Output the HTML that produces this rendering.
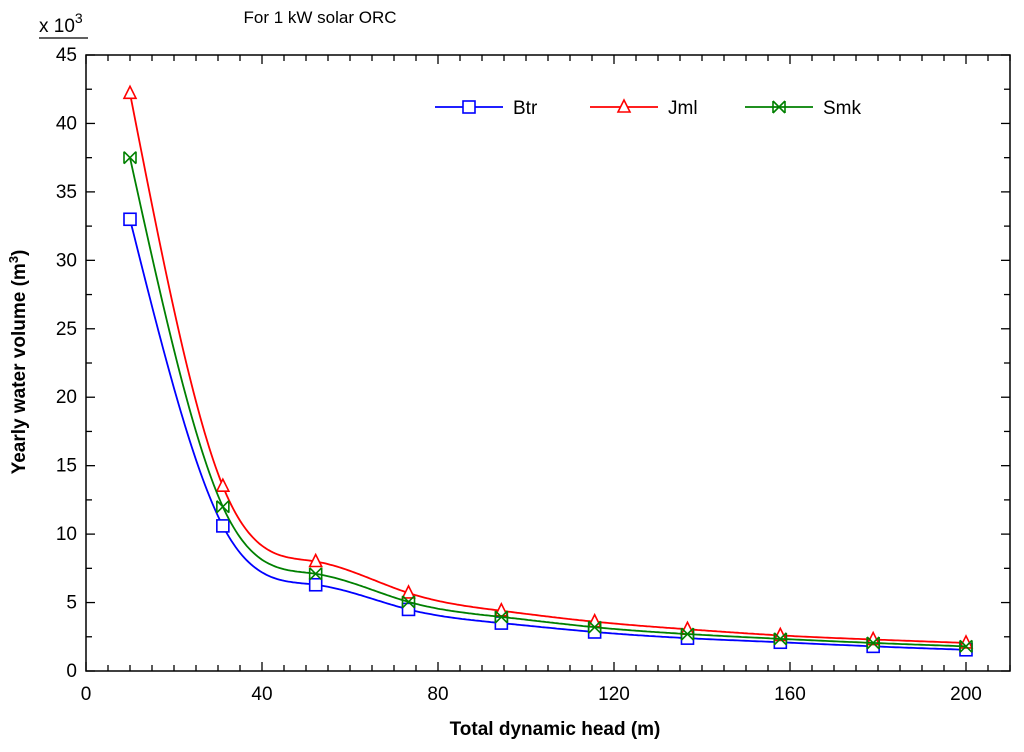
<!DOCTYPE html>
<html><head><meta charset="utf-8"><style>
body{margin:0;background:#fff}
svg text{font-family:"Liberation Sans",sans-serif}
</style></head><body>
<svg id="c" width="1024" height="747" xmlns="http://www.w3.org/2000/svg">
<text x="320" y="23" font-size="17" text-anchor="middle">For 1 kW solar ORC</text>
<text x="39" y="32" font-size="19">x 10<tspan dy="-9" font-size="14">3</tspan></text>
<line x1="39" y1="38" x2="88" y2="38" stroke="#000" stroke-width="1.3"/>
<text x="555" y="735" font-size="19" font-weight="bold" text-anchor="middle">Total dynamic head (m)</text>
<text transform="translate(25,362) rotate(-90)" font-size="19" font-weight="bold" text-anchor="middle">Yearly water volume (m<tspan dy="-7" font-size="13">3</tspan><tspan dy="7">)</tspan></text>
<g id="axes"></g><g id="series"></g><g id="legend"></g>
</svg>
<script>
const xValues=[10,31.1,52.2,73.3,94.4,115.6,136.7,157.8,178.9,200];
const btr=[33.0,10.6,6.3,4.5,3.5,2.85,2.4,2.1,1.8,1.55];
const jml=[42.2,13.5,8.0,5.7,4.4,3.6,3.05,2.6,2.3,2.05];
const smk=[37.5,12.0,7.1,5.05,3.95,3.2,2.7,2.35,2.05,1.8];
const xTicks=[0,40,80,120,160,200];
const yTicks=[0,5,10,15,20,25,30,35,40,45];
const L=86,R=1010,T=55,B=671,XMAX=210,YMAX=45;
const sx=v=>L+v/XMAX*(R-L), sy=v=>B-v/YMAX*(B-T);
const NS="http://www.w3.org/2000/svg";
function mk(t,a,p){const e=document.createElementNS(NS,t);for(const k in a)e.setAttribute(k,a[k]);p.appendChild(e);return e;}
const ax=document.getElementById('axes');
const frame=mk('rect',{x:L,y:T,width:R-L,height:B-T,fill:'none',stroke:'#000','stroke-width':1.5},ax);


for(let v=0;v<=XMAX;v+=5){const x=sx(v),len=v%40===0?9:6;
mk('line',{x1:x,y1:B,x2:x,y2:B-len,stroke:'#000','stroke-width':1.3},ax);
mk('line',{x1:x,y1:T,x2:x,y2:T+len,stroke:'#000','stroke-width':1.3},ax);}
xTicks.forEach(v=>{const t=mk('text',{x:sx(v),y:B+29,'font-size':19,'text-anchor':'middle'},ax);t.textContent=v;

});
for(let v=0;v<=YMAX;v+=2.5){const y=sy(v),len=v%5===0?9:6;
mk('line',{x1:L,y1:y,x2:L+len,y2:y,stroke:'#000','stroke-width':1.3},ax);
mk('line',{x1:R,y1:y,x2:R-len,y2:y,stroke:'#000','stroke-width':1.3},ax);}
yTicks.forEach(v=>{const t=mk('text',{x:L-9,y:sy(v)+6,'font-size':19,'text-anchor':'end'},ax);t.textContent=v;

});
function natural(xs,ys){const n=xs.length,h=[],a=[],l=[1],mu=[0],z=[0],c=new Array(n).fill(0);
for(let i=0;i<n-1;i++)h.push(xs[i+1]-xs[i]);
for(let i=1;i<n-1;i++)a[i]=3/h[i]*(ys[i+1]-ys[i])-3/h[i-1]*(ys[i]-ys[i-1]);
for(let i=1;i<n-1;i++){l[i]=2*(xs[i+1]-xs[i-1])-h[i-1]*mu[i-1];mu[i]=h[i]/l[i];z[i]=(a[i]-h[i-1]*z[i-1])/l[i];}
l[n-1]=1;z[n-1]=0;
const b=[],d=[];
for(let j=n-2;j>=0;j--){c[j]=z[j]-mu[j]*c[j+1];b[j]=(ys[j+1]-ys[j])/h[j]-h[j]*(c[j+1]+2*c[j])/3;d[j]=(c[j+1]-c[j])/(3*h[j]);}
return x=>{let j=0;while(j<n-2&&x>xs[j+1])j++;const t=x-xs[j];return ys[j]+b[j]*t+c[j]*t*t+d[j]*t*t*t;};}
function curve(vals){const f=natural(xValues,vals);let d='';
for(let x=xValues[0];x<=xValues[xValues.length-1]+0.001;x+=0.5){d+=(d?'L':'M')+sx(x).toFixed(1)+','+sy(f(x)).toFixed(1);}return d;}
function marker(type,x,y,c,g){
if(type==='sq')mk('rect',{x:x-6,y:y-6,width:12,height:12,fill:'#fff',stroke:c,'stroke-width':1.6},g);
else if(type==='tri')mk('polygon',{points:`${x},${y-7} ${x-6},${y+5} ${x+6},${y+5}`,fill:'#fff',stroke:c,'stroke-width':1.6},g);
else mk('path',{d:`M${x-6},${y-6}L${x+6},${y+6}M${x-6},${y+6}L${x+6},${y-6}M${x-6},${y-6}V${y+6}M${x+6},${y-6}V${y+6}`,fill:'none',stroke:c,'stroke-width':1.6},g);}
const sg=document.getElementById('series');
const defs=[['series-btr',btr,'#0000ff','sq','Btr',435],['series-jml',jml,'#ff0000','tri','Jml',590],['series-smk',smk,'#008000','bt','Smk',745]];
const lg=document.getElementById('legend');
defs.forEach(([n,vals,c,m,lab,lx])=>{
const g=mk('g',{},sg);


mk('path',{d:curve(vals),fill:'none',stroke:c,'stroke-width':1.8},g);
xValues.forEach((v,i)=>marker(m,sx(v),sy(vals[i]),c,g));
const e=mk('g',{},lg);


mk('line',{x1:lx,y1:107,x2:lx+68,y2:107,stroke:c,'stroke-width':1.8},e);
marker(m,lx+34,107,c,e);
const t=mk('text',{x:lx+78,y:114,'font-size':19},e);t.textContent=lab;});
</script>
</body></html>
